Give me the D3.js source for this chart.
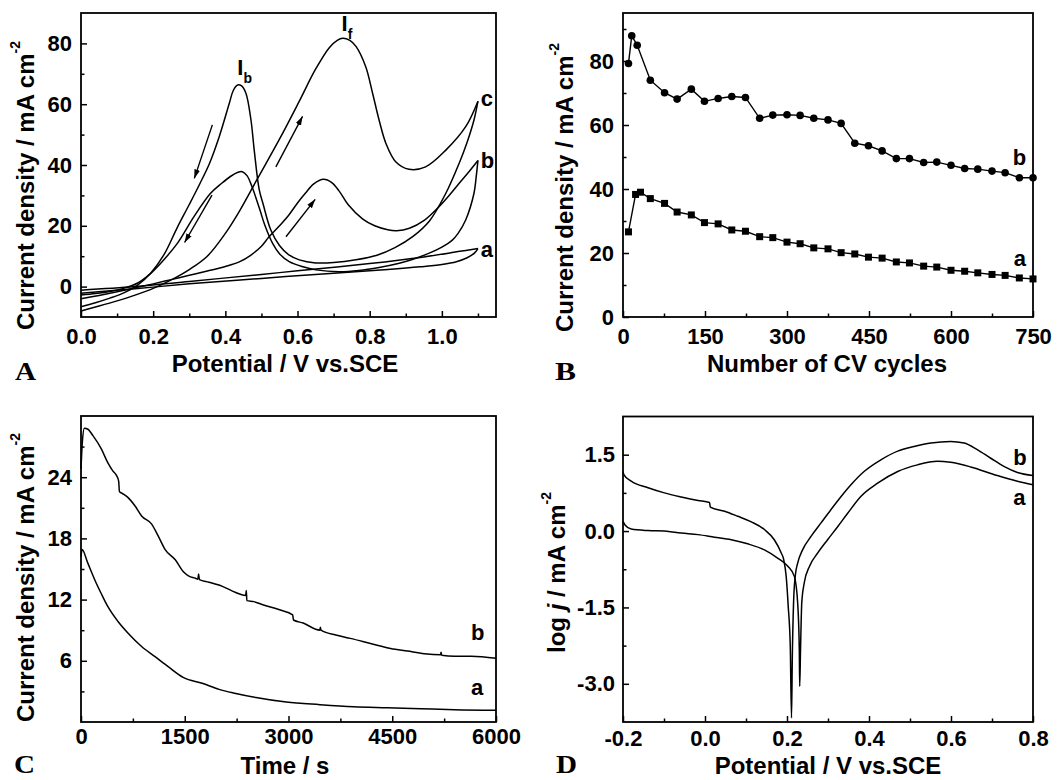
<!DOCTYPE html>
<html><head><meta charset="utf-8">
<script src="https://cdn.jsdelivr.net/npm/d3@7"></script>
<style>
body{margin:0;background:#fff}
text{font-weight:bold;fill:#000}
</style>
</head><body>
<svg id="chart" width="1062" height="780"></svg>
<script>
// ---------- Panel A: cyclic voltammograms [potential V, current mA cm-2] ----------
const cvA_aForward = [[0,-2.2],[0.15,-0.7],[0.3,0.9],[0.5,2.7],[0.7,4.4],[0.85,5.6],[0.94,6.5],[1.0,7.3],[1.04,8.2],[1.07,9.5],[1.09,11],[1.1,12.5]];
const cvA_aBackward = [[1.1,12.5],[1.05,11.6],[0.94,9.6],[0.8,7.6],[0.6,5.2],[0.5,4],[0.3,1.7],[0.15,0],[0,-1.2]];
const cvA_bForward = [[0,-4],[0.05,-2.9],[0.1,-1.7],[0.15,-0.4],[0.2,0.9],[0.25,2.3],[0.3,3.7],[0.35,5.1],[0.4,6.6],[0.44,8.2],[0.47,10.3],[0.5,13.3],[0.52,16.2],[0.55,20],[0.575,23.4],[0.6,27.5],[0.621,30.6],[0.645,33.8],[0.672,35.3],[0.695,34.2],[0.715,31.5],[0.74,27],[0.78,22.3],[0.814,20],[0.85,18.7],[0.875,18.4],[0.91,19.2],[0.951,21.8],[0.992,26.3],[1.02,30],[1.048,34],[1.075,37.8],[1.1,41.5]];
const cvA_bBackward = [[1.1,41.5],[1.095,36],[1.089,30.7],[1.066,21.9],[1.045,17.5],[1.029,15.3],[1.0,13],[0.965,11],[0.92,9],[0.882,7.7],[0.826,6.3],[0.77,5.3],[0.715,4.9],[0.651,5.5],[0.615,6.5],[0.577,8.2],[0.55,10.8],[0.531,14.2],[0.51,20],[0.495,25.5],[0.475,32.5],[0.46,36.5],[0.447,37.8],[0.435,37.6],[0.415,36.3],[0.39,34],[0.359,30.7],[0.313,23],[0.267,14.2],[0.221,7.7],[0.19,4],[0.156,1.1],[0.12,-0.5],[0.08,-1.6],[0.04,-2.3],[0,-2.8]];
const cvA_cForward = [[0,-8],[0.05,-6.4],[0.1,-4.7],[0.15,-2.8],[0.2,-0.6],[0.25,2.2],[0.3,5.6],[0.35,10],[0.4,17.5],[0.44,25],[0.489,35.5],[0.55,48.5],[0.605,61],[0.65,71.5],[0.688,78.6],[0.71,81],[0.725,81.7],[0.745,81],[0.762,79],[0.789,72.3],[0.808,63.6],[0.826,54.8],[0.845,47.1],[0.872,41.1],[0.909,38.6],[0.955,39.4],[1.011,44.9],[1.066,52.6],[1.1,61]];
const cvA_cBackward = [[1.1,61],[1.089,54.8],[1.07,47.5],[1.048,40.6],[1.011,30.7],[0.965,21.5],[0.92,16.5],[0.87,12.8],[0.82,10.3],[0.762,8.8],[0.7,7.9],[0.65,7.8],[0.605,8.8],[0.575,10.5],[0.55,13.5],[0.526,18.6],[0.505,27],[0.494,31.8],[0.48,44.9],[0.471,54.8],[0.457,63.6],[0.445,66],[0.434,66.3],[0.422,64.5],[0.411,60.3],[0.383,49.3],[0.356,40.5],[0.33,34],[0.3,27],[0.267,19.5],[0.23,10.5],[0.193,4.4],[0.156,0.4],[0.12,-2],[0.08,-3.8],[0.04,-5.3],[0,-6.6]];
const arrowsA = [[[0.364,53.2],[0.314,35.6]],[[0.363,30.1],[0.287,14.5]],[[0.54,39.4],[0.614,56]],[[0.568,16.4],[0.649,28.7]]];
const xTicksA = [0,0.2,0.4,0.6,0.8,1.0];
const xMinorA = [0.1,0.3,0.5,0.7,0.9,1.1];
const yTicksA = [0,20,40,60,80];
const yMinorA = [10,30,50,70];

// ---------- Panel B: stability vs cycles ----------
const cyclesB_b = [10,16,26,50,76,99,125,149,174,199,224,250,274,300,324,349,375,399,424,449,474,500,524,550,574,600,625,649,675,699,725,750];
const densityB_b = [79.2,87.9,84.9,74,70.1,68.1,71.2,67.4,68.3,68.9,68.6,62.1,63.1,63.2,63,62.1,61.6,60.5,54.3,53.5,51.9,49.5,49.5,48.3,48.4,47.4,46.4,46.2,45.6,45.1,43.5,43.5];
const cyclesB_a = [10,23,32,50,76,99,125,149,174,199,224,250,274,300,324,349,375,399,424,449,474,500,524,550,574,600,625,649,675,699,725,750];
const densityB_a = [26.6,38.3,39,37,35.5,32.8,31.9,29.5,29.1,27.2,26.8,25.1,24.8,23.4,22.9,21.6,21.3,20.1,19.7,18.7,18.4,17.2,16.9,15.9,15.6,14.6,14.3,13.8,13.3,13,12.2,11.9];
const xTicksB = [0,150,300,450,600,750];
const xMinorB = [75,225,375,525,675];
const yTicksB = [0,20,40,60,80];
const yMinorB = [10,30,50,70,90];

// ---------- Panel C: chronoamperometry [time s, current] ----------
const caC_b = [[0,24.8],[20,27.5],[49,28.8],[100,28.7],[170,28.1],[292,26.8],[389,25.4],[462,24.6],[511,24.2],[545,23.6],[555,22.6],[600,22.4],[681,22.0],[779,21.2],[876,20.2],[1022,19.4],[1119,18.2],[1217,16.9],[1363,15.9],[1484,14.7],[1560,14.3],[1654,14.1],[1690,14.0],[1700,14.5],[1712,13.95],[1849,13.7],[2044,13.3],[2238,12.7],[2380,12.4],[2390,12.9],[2398,11.9],[2500,11.8],[2628,11.5],[2871,11.0],[3060,10.5],[3072,10.0],[3212,9.7],[3455,9.0],[3460,9.3],[3470,9.0],[3698,8.5],[3893,8.2],[4185,7.7],[4477,7.2],[4720,6.95],[4963,6.7],[5200,6.6],[5205,6.85],[5215,6.55],[5400,6.45],[5645,6.45],[6000,6.25]];
const caC_a = [[0,16.2],[15,16.9],[97,15.6],[195,14.0],[292,12.6],[389,11.3],[535,9.85],[681,8.7],[876,7.4],[1071,6.4],[1265,5.4],[1484,4.35],[1752,3.8],[1995,3.2],[2238,2.8],[2530,2.4],[2968,1.95],[3455,1.7],[3941,1.5],[4428,1.4],[4915,1.3],[5401,1.2],[6000,1.15]];
const xTicksC = [0,1500,3000,4500,6000];
const xMinorC = [750,2250,3750,5250];
const yTicksC = [6,12,18,24];
const yMinorC = [3,9,15,21,27];

// ---------- Panel D: Tafel curves [potential V, log j] ----------
const tafelD_b = [[-0.2,1.17],[-0.198,1.11],[-0.18,0.98],[-0.139,0.85],[-0.099,0.75],[-0.058,0.67],[-0.017,0.6],[0.011,0.56],[0.013,0.47],[0.048,0.39],[0.08,0.29],[0.113,0.18],[0.145,0.03],[0.169,-0.17],[0.186,-0.43],[0.192,-0.56],[0.198,-0.89],[0.203,-1.48],[0.208,-2.27],[0.211,-3.67],[0.213,-2.46],[0.216,-1.41],[0.22,-0.89],[0.226,-0.63],[0.238,-0.37],[0.259,-0.1],[0.283,0.16],[0.307,0.42],[0.332,0.68],[0.356,0.91],[0.388,1.17],[0.429,1.4],[0.47,1.57],[0.51,1.66],[0.551,1.73],[0.599,1.76],[0.632,1.73],[0.664,1.6],[0.697,1.43],[0.729,1.27],[0.762,1.15],[0.8,1.09]];
const tafelD_a = [[-0.2,0.19],[-0.195,0.12],[-0.18,0.04],[-0.139,0.01],[-0.099,0.0],[-0.058,-0.04],[-0.017,-0.07],[0.023,-0.12],[0.064,-0.17],[0.104,-0.25],[0.145,-0.37],[0.177,-0.53],[0.202,-0.69],[0.218,-0.89],[0.226,-1.41],[0.23,-2.33],[0.231,-3.05],[0.233,-2.33],[0.236,-1.41],[0.242,-1.02],[0.255,-0.69],[0.275,-0.43],[0.299,-0.17],[0.324,0.09],[0.348,0.35],[0.38,0.68],[0.421,0.94],[0.47,1.17],[0.518,1.3],[0.567,1.37],[0.599,1.35],[0.648,1.26],[0.713,1.09],[0.762,0.98],[0.8,0.91]];
const xTicksD = [-0.2,0,0.2,0.4,0.6,0.8];
const xMinorD = [-0.1,0.1,0.3,0.5,0.7];
const yTicksD = [-3,-1.5,0,1.5];
const yMinorD = [-2.25,-0.75,0.75];

// ---------------------------------------------------------------
const SANS = "'Liberation Sans',Arial,Helvetica,sans-serif";
const SERIF = "'Liberation Serif','Times New Roman',Times,serif";
const svg = d3.select('#chart').style('font-family',SANS);
svg.append('rect').attr('width',1062).attr('height',780).attr('fill','#fff');
const defs = svg.append('defs');
defs.append('marker').attr('id','ah').attr('markerUnits','userSpaceOnUse')
  .attr('markerWidth',10).attr('markerHeight',7).attr('refX',9).attr('refY',3.5).attr('orient','auto')
  .append('path').attr('d','M0,0.6 L9,3.5 L0,6.4 Z').attr('fill','#000');

const fmtDash = f => v => f(v).replace('\u2212','-');

function frame(g, x, y, o) {
  const [x0,x1] = x.range(), [y0,y1] = y.range();
  const bx = g.append('g').attr('transform',`translate(0,${y0})`)
    .call(d3.axisBottom(x).tickValues(o.xt).tickSize(-6).tickPadding(o.xpad).tickFormat(o.xf));
  const bxm = g.append('g').attr('transform',`translate(0,${y0})`)
    .call(d3.axisBottom(x).tickValues(o.xm).tickSize(-3.5).tickFormat(''));
  const ly = g.append('g').attr('transform',`translate(${x0},0)`)
    .call(d3.axisLeft(y).tickValues(o.yt).tickSize(-6).tickPadding(o.ypad).tickFormat(o.yf));
  const lym = g.append('g').attr('transform',`translate(${x0},0)`)
    .call(d3.axisLeft(y).tickValues(o.ym).tickSize(-3.5).tickFormat(''));
  [bx,bxm,ly,lym].forEach(a=>{
    a.attr('font-family',null).attr('font-size',null);
    a.select('.domain').remove();
    a.selectAll('line').attr('stroke','#000').attr('stroke-width',1.5);
    a.selectAll('text').style('font-family',SANS).style('font-size','22px').style('font-weight','bold').attr('fill','#000');
  });
  g.append('rect').attr('x',x0).attr('y',y1).attr('width',x1-x0).attr('height',y0-y1)
    .attr('fill','none').attr('stroke','#000').attr('stroke-width',1.8);
}

function yTitle(g, xb, ystart, parts) {
  const t = g.append('text').attr('transform',`translate(${xb},${ystart}) rotate(-90)`)
    .style('font-size','24px').attr('text-anchor','start');
  parts.forEach(p=>{
    const s = t.append('tspan').text(p.t);
    if (p.it) s.style('font-style','italic');
    if (p.sup) s.style('font-size','14px').attr('dy',-14);
  });
}
function lab(g, txt, x, y) {
  g.append('text').attr('x',x).attr('y',y).style('font-size','22px').text(txt);
}
function panelLetter(txt, x, y) {
  svg.append('text').attr('x',x).attr('y',y).style('font-size','25px')
    .style('font-family',SERIF).style('font-weight','bold')
    .attr('textLength',21).attr('lengthAdjust','spacingAndGlyphs').text(txt);
}

// ---------------- Panel A ----------------
{
  const g = svg.append('g');
  const x = d3.scaleLinear([0,1.15],[81,496]);
  const y = d3.scaleLinear([-10,90],[317,13]);
  const line = d3.line().x(d=>x(d[0])).y(d=>y(d[1])).curve(d3.curveCatmullRom.alpha(0.5));
  [cvA_aForward,cvA_aBackward,cvA_bForward,cvA_bBackward,cvA_cForward,cvA_cBackward].forEach(s=>{
    g.append('path').attr('d',line(s)).attr('fill','none').attr('stroke','#000').attr('stroke-width',1.5);
  });
  arrowsA.forEach(a=>{
    g.append('line').attr('x1',x(a[0][0])).attr('y1',y(a[0][1])).attr('x2',x(a[1][0])).attr('y2',y(a[1][1]))
      .attr('stroke','#000').attr('stroke-width',1.4).attr('marker-end','url(#ah)');
  });
  frame(g,x,y,{xt:xTicksA,xm:xMinorA,yt:yTicksA,ym:yMinorA,xpad:11,ypad:9,xf:d3.format('.1f'),yf:d3.format('d')});
  const ib = g.append('text').attr('x',x(0.433)).attr('y',y(69.6)).style('font-size','22px');
  ib.append('tspan').text('I'); ib.append('tspan').style('font-size','14px').attr('dy',8).text('b');
  const inf = g.append('text').attr('x',x(0.722)).attr('y',y(84)).style('font-size','22px');
  inf.append('tspan').text('I'); inf.append('tspan').style('font-size','14px').attr('dy',8).text('f');
  lab(g,'c',x(1.108),y(59.3)); lab(g,'b',x(1.108),y(39)); lab(g,'a',x(1.108),y(9.7));
  g.append('text').attr('x',285).attr('y',372).attr('text-anchor','middle').style('font-size','24px').text('Potential / V vs.SCE');
  yTitle(g,33.5,330,[{t:'Current density / mA cm'},{t:'-2',sup:true}]);
  panelLetter('A',15,380);
}

// ---------------- Panel B ----------------
{
  const g = svg.append('g');
  const x = d3.scaleLinear([0,750],[623,1033]);
  const y = d3.scaleLinear([0,95],[317,13]);
  const line = d3.line().x(d=>x(d[0])).y(d=>y(d[1]));
  const sb = cyclesB_b.map((c,i)=>[c,densityB_b[i]]);
  const sa = cyclesB_a.map((c,i)=>[c,densityB_a[i]]);
  g.append('path').attr('d',line(sb)).attr('fill','none').attr('stroke','#000').attr('stroke-width',1.4);
  g.append('path').attr('d',line(sa)).attr('fill','none').attr('stroke','#000').attr('stroke-width',1.4);
  g.selectAll('circle.b').data(sb).join('circle').attr('cx',d=>x(d[0])).attr('cy',d=>y(d[1])).attr('r',3.8).attr('fill','#000');
  g.selectAll('rect.a').data(sa).join('rect').attr('x',d=>x(d[0])-3.5).attr('y',d=>y(d[1])-3.5).attr('width',7).attr('height',7).attr('fill','#000');
  frame(g,x,y,{xt:xTicksB,xm:xMinorB,yt:yTicksB,ym:yMinorB,xpad:11,ypad:9,xf:d3.format('d'),yf:d3.format('d')});
  lab(g,'b',x(713),y(47.5)); lab(g,'a',x(715),y(16));
  g.append('text').attr('x',827).attr('y',372).attr('text-anchor','middle').style('font-size','24px').text('Number of CV cycles');
  yTitle(g,573,332,[{t:'Current density / mA cm'},{t:'-2',sup:true}]);
  panelLetter('B',555,380);
}

// ---------------- Panel C ----------------
{
  const g = svg.append('g');
  const x = d3.scaleLinear([0,6000],[81,496]);
  const y = d3.scaleLinear([0,30],[722,416]);
  const line = d3.line().x(d=>x(d[0])).y(d=>y(d[1])).curve(d3.curveMonotoneX);
  [caC_b,caC_a].forEach(s=>{
    g.append('path').attr('d',line(s)).attr('fill','none').attr('stroke','#000').attr('stroke-width',1.5);
  });
  frame(g,x,y,{xt:xTicksC,xm:xMinorC,yt:yTicksC,ym:yMinorC,xpad:6,ypad:9,xf:d3.format('d'),yf:d3.format('d')});
  lab(g,'b',x(5640),y(8)); lab(g,'a',x(5640),y(2.6));
  g.append('text').attr('x',285).attr('y',774).attr('text-anchor','middle').style('font-size','24px').text('Time / s');
  yTitle(g,33.5,722,[{t:'Current density / mA cm'},{t:'-2',sup:true}]);
  panelLetter('C',14,773);
}

// ---------------- Panel D ----------------
{
  const g = svg.append('g');
  const x = d3.scaleLinear([-0.2,0.8],[623,1033]);
  const y = d3.scaleLinear([-3.75,2.25],[722,416.5]);
  const line = d3.line().x(d=>x(d[0])).y(d=>y(d[1])).curve(d3.curveMonotoneX);
  [tafelD_b,tafelD_a].forEach(s=>{
    g.append('path').attr('d',line(s)).attr('fill','none').attr('stroke','#000').attr('stroke-width',1.5);
  });
  frame(g,x,y,{xt:xTicksD,xm:xMinorD,yt:yTicksD,ym:yMinorD,xpad:8,ypad:8,xf:fmtDash(d3.format('.1f')),yf:fmtDash(d3.format('.1f'))});
  lab(g,'b',x(0.752),y(1.3)); lab(g,'a',x(0.752),y(0.51));
  g.append('text').attr('x',828).attr('y',774).attr('text-anchor','middle').style('font-size','24px').text('Potential / V vs.SCE');
  yTitle(g,565,653,[{t:'log '},{t:'j',it:true},{t:' / mA cm'},{t:'-2',sup:true}]);
  panelLetter('D',556,773);
}
</script>
</body></html>
